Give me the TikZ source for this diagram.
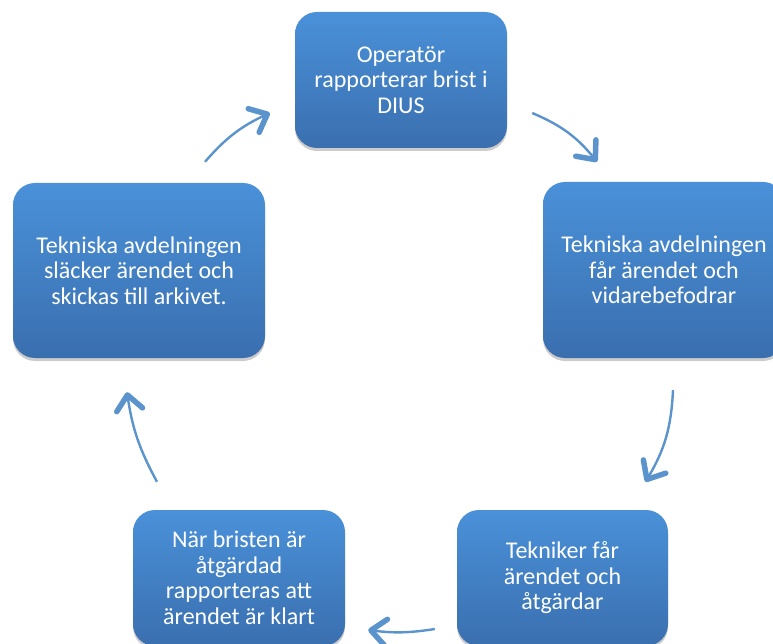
\documentclass[tikz,border=0pt]{standalone}
\usepackage{fontspec}
\setmainfont{Carlito}
\usetikzlibrary{arrows.meta,calc,shadows,positioning}
\definecolor{boxtop}{RGB}{74,145,217}
\definecolor{boxbot}{RGB}{58,111,175}
\definecolor{pil}{RGB}{91,148,205}

\tikzset{
  steg/.style={rectangle, rounded corners=22pt, inner sep=0pt, align=center,
    text=white, font=\fontsize{24}{25.5}\selectfont,
    top color=boxtop, bottom color=boxbot,
    drop shadow={shadow xshift=0pt, shadow yshift=-3pt, opacity=.2, fill=black}},
  cyc/.style={draw=pil, line width=2.4pt,
    -{Straight Barb[length=15pt,width=26pt,line width=5.5pt,round]}}
}

\begin{document}
\begin{tikzpicture}[x=1pt,y=-1pt]
\clip (0,0) rectangle (773,644);
\node[steg, minimum width=212pt, minimum height=136pt] (op) at (401,80) {Operatör\\rapporterar brist i\\DIUS};
\node[steg, minimum width=242pt, minimum height=176pt] (tekn) at (664,270) {Tekniska avdelningen\\får ärendet och\\vidarebefodrar};
\node[steg, minimum width=211pt, minimum height=136pt] (tekniker) at (562.5,578) {Tekniker får\\ärendet och\\åtgärdar};
\node[steg, minimum width=212pt, minimum height=136pt] (klar) at (239,578) {När bristen är\\åtgärdad\\rapporteras att\\ärendet är klart};
\node[steg, minimum width=252pt, minimum height=175pt] (arkiv) at (139,270.5) {Tekniska avdelningen\\släcker ärendet och\\skickas till arkivet.};
\draw[cyc] ($(op.east)+(25,33)$) to[bend left=14] ($(tekn.north)+(-67,-20)$);
\draw[cyc] ($(tekn.south)+(9,32)$) to[bend left=14] ($(tekniker.north)+(83,-28)$);
\draw[cyc] ($(tekniker.west)+(-22,51)$) to[bend left=8] ($(klar.east)+(23,52)$);
\draw[cyc] ($(klar.north)+(-82,-28)$) to[bend left=10] ($(arkiv.south)+(-12,34)$);
\draw[cyc] ($(arkiv.north)+(66,-21)$) to[bend left=12] ($(op.west)+(-25,33)$);
\end{tikzpicture}
\end{document}
